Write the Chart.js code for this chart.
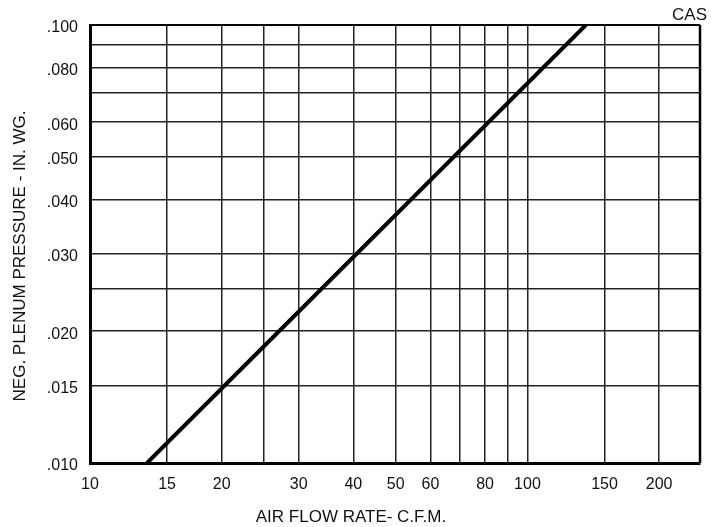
<!DOCTYPE html>
<html>
<head>
<meta charset="utf-8">
<script src="https://cdn.jsdelivr.net/npm/chart.js@4.4.1/dist/chart.umd.min.js"></script>
<style>
  html, body { margin: 0; padding: 0; background: #fff; }
  #wrap { width: 716px; height: 527px; }
</style>
</head>
<body>
<div id="wrap"><canvas id="casChart" width="716" height="527"></canvas></div>
<script>
/* ===== DATA ===== */
const flowGrid = [10, 15, 20, 25, 30, 40, 50, 60, 70, 80, 90, 100, 150, 200];
const flowLabels = [10, 15, 20, 30, 40, 50, 60, 80, 100, 150, 200];
const pressureGrid = [0.01, 0.015, 0.02, 0.025, 0.03, 0.04, 0.05, 0.06, 0.07, 0.08, 0.09, 0.1];
const pressureLabels = [0.01, 0.015, 0.02, 0.03, 0.04, 0.05, 0.06, 0.08, 0.1];
const casFlow = [13.5, 136];
const casPressure = [0.010, 0.100];

const FONT = "'Liberation Sans', Arial, sans-serif";

const fmtPressure = v => "." + String(Math.round(v * 1000)).padStart(3, "0");

/* ===== FRAME + TITLES ===== */
const framePlugin = {
    id: "frame",
    afterDraw(chart) {
        const {ctx, chartArea: a} = chart;
        ctx.save();
        ctx.strokeStyle = "#000";
        ctx.lineWidth = 2;
        ctx.beginPath();
        ctx.moveTo(a.left, a.top);
        ctx.lineTo(a.right, a.top);
        ctx.stroke();
        ctx.lineWidth = 2.5;
        ctx.beginPath();
        ctx.moveTo(a.right, a.top);
        ctx.lineTo(a.right, a.bottom);
        ctx.stroke();

        ctx.fillStyle = "#111";
        ctx.font = "17px " + FONT;
        ctx.textBaseline = "middle";
        ctx.textAlign = "right";
        ctx.fillText("CAS", 707, 15);

        ctx.textAlign = "center";
        ctx.fillText("AIR FLOW RATE- C.F.M.", 351, 517);

        ctx.translate(20, 256);
        ctx.rotate(-Math.PI / 2);
        ctx.fillText("NEG. PLENUM PRESSURE - IN. WG.", 0, 0);
        ctx.restore();
    }
};

const ctxCas = document.getElementById("casChart").getContext("2d");
new Chart(ctxCas, {
    type: "scatter",
    data: {
        datasets: [{
            data: casFlow.map((q, i) => ({x: q, y: casPressure[i]})),
            showLine: true,
            borderColor: "#000",
            borderWidth: 4,
            pointRadius: 0,
            tension: 0
        }]
    },
    options: {
        responsive: false,
        animation: false,
        devicePixelRatio: 1,
        layout: {padding: {left: 0, right: 16, top: 25, bottom: 0}},
        plugins: {legend: {display: false}, tooltip: {enabled: false}},
        scales: {
            x: {
                type: "logarithmic",
                min: 10,
                max: 248,
                afterBuildTicks: s => { s.ticks = flowGrid.map(v => ({value: v})); },
                afterFit: s => { s.height = 64; },
                grid: {color: "#222", lineWidth: 1.5, drawTicks: false},
                border: {color: "#000", width: 3},
                ticks: {
                    autoSkip: false,
                    maxRotation: 0,
                    padding: 12,
                    color: "#111",
                    font: {family: FONT, size: 16},
                    callback: v => flowLabels.includes(v) ? String(v) : ""
                }
            },
            y: {
                type: "logarithmic",
                min: 0.01,
                max: 0.1,
                afterBuildTicks: s => { s.ticks = pressureGrid.map(v => ({value: v})); },
                afterFit: s => { s.width = 90; },
                grid: {color: "#222", lineWidth: 1.5, drawTicks: false},
                border: {color: "#000", width: 3},
                ticks: {
                    autoSkip: false,
                    padding: 12,
                    labelOffset: 3,
                    color: "#111",
                    font: {family: FONT, size: 16},
                    callback: v => pressureLabels.some(p => Math.abs(p - v) < 1e-9) ? fmtPressure(v) : ""
                }
            }
        }
    },
    plugins: [framePlugin]
});
</script>
</body>
</html>
